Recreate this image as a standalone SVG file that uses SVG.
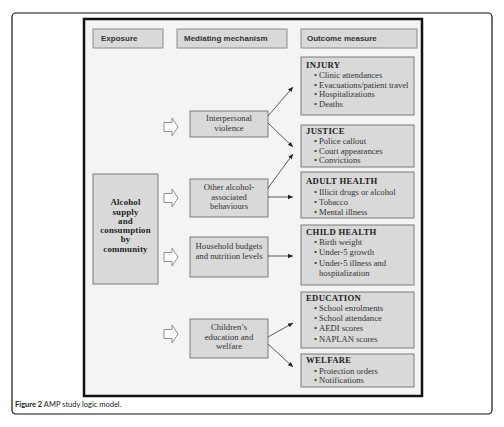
<svg xmlns="http://www.w3.org/2000/svg" width="504" height="427" viewBox="0 0 504 427">
<style>
.hdr{fill:#d9d9d9;stroke:#8a8a8a;stroke-width:1}
.hdrt{font-family:"Liberation Sans",Arial,sans-serif;font-weight:bold;font-size:8px;fill:#333}
.box{fill:#d9d9d9;stroke:#7a7a7a;stroke-width:1}
.mt{font-family:"Liberation Serif","Times New Roman",serif;font-size:8.7px;fill:#333;text-anchor:middle}
.et{font-family:"Liberation Serif","Times New Roman",serif;font-size:8.8px;font-weight:bold;fill:#222;text-anchor:middle;letter-spacing:0.2px}
.ot{font-family:"Liberation Serif","Times New Roman",serif;font-size:8.7px;font-weight:bold;fill:#222;letter-spacing:0.3px}
.oi{font-family:"Liberation Serif","Times New Roman",serif;font-size:8.6px;fill:#333}
.bar{fill:#fff;stroke:#777;stroke-width:0.8}
.con line{stroke:#333;stroke-width:0.8;marker-end:url(#ah)}
</style>
<defs>
<marker id="ah" markerWidth="6" markerHeight="6" refX="5" refY="3" orient="auto" markerUnits="userSpaceOnUse">
<path d="M0,0.8 L5,3 L0,5.2 Z" fill="#222"/>
</marker>
<path id="blk" d="M0,-4.5 H8 V-9 L14,0 L8,9 V4.5 H0 Z"/>
</defs>
<rect x="0" y="0" width="504" height="427" fill="#fff"/>
<rect x="12" y="13" width="480" height="401" rx="4" fill="#fff" stroke="#111" stroke-width="1.2"/>
<rect x="84" y="19" width="338" height="377" fill="#f4f4f4" stroke="#111" stroke-width="2.5"/>

<g id="headers">
<rect class="hdr" x="93" y="29" width="70" height="19"/>
<text class="hdrt" x="101" y="41">Exposure</text>
<rect class="hdr" x="177" y="29" width="110" height="19"/>
<text class="hdrt" x="184" y="41">Mediating mechanism</text>
<rect class="hdr" x="301" y="29" width="116" height="19"/>
<text class="hdrt" x="307" y="41">Outcome measure</text>
</g>

<g id="exposure">
<rect class="box" x="93" y="174" width="65" height="110"/>
<text class="et" x="125.5" y="205">Alcohol</text>
<text class="et" x="125.5" y="214.5">supply</text>
<text class="et" x="125.5" y="224">and</text>
<text class="et" x="125.5" y="233">consumption</text>
<text class="et" x="125.5" y="242">by</text>
<text class="et" x="125.5" y="251.5">community</text>
</g>

<g id="block-arrows">
<use href="#blk" class="bar" x="164" y="127"/>
<use href="#blk" class="bar" x="164" y="198"/>
<use href="#blk" class="bar" x="164" y="257"/>
<use href="#blk" class="bar" x="164" y="334"/>
</g>

<g id="interpersonal">
<rect class="box" x="190" y="111" width="78" height="26"/>
<text class="mt" x="229" y="121">Interpersonal</text>
<text class="mt" x="229" y="131">violence</text>
</g>
<g id="other">
<rect class="box" x="190" y="179" width="78" height="38"/>
<text class="mt" x="229" y="190">Other alcohol-</text>
<text class="mt" x="229" y="199.5">associated</text>
<text class="mt" x="229" y="209">behaviours</text>
</g>
<g id="household">
<rect class="box" x="190" y="237" width="78" height="40"/>
<text class="mt" x="229" y="249">Household budgets</text>
<text class="mt" x="229" y="258.5">and nutrition levels</text>
</g>
<g id="children">
<rect class="box" x="190" y="319" width="78" height="39"/>
<text class="mt" x="229" y="330">Children’s</text>
<text class="mt" x="229" y="339.5">education and</text>
<text class="mt" x="229" y="349">welfare</text>
</g>

<g id="injury">
<rect class="box" x="301" y="57" width="113" height="58"/>
<text class="ot" x="306" y="68">INJURY</text>
<text class="oi" x="314" y="78">•</text><text class="oi" x="319" y="78">Clinic attendances</text>
<text class="oi" x="314" y="87.5">•</text><text class="oi" x="319" y="87.5">Evacuations/patient travel</text>
<text class="oi" x="314" y="97">•</text><text class="oi" x="319" y="97">Hospitalizations</text>
<text class="oi" x="314" y="107">•</text><text class="oi" x="319" y="107">Deaths</text>
</g>
<g id="justice">
<rect class="box" x="301" y="125" width="113" height="42"/>
<text class="ot" x="306" y="134">JUSTICE</text>
<text class="oi" x="314" y="144">•</text><text class="oi" x="319" y="144">Police callout</text>
<text class="oi" x="314" y="153.5">•</text><text class="oi" x="319" y="153.5">Court appearances</text>
<text class="oi" x="314" y="163">•</text><text class="oi" x="319" y="163">Convictions</text>
</g>
<g id="adult-health">
<rect class="box" x="301" y="172" width="113" height="46"/>
<text class="ot" x="306" y="184">ADULT HEALTH</text>
<text class="oi" x="314" y="195">•</text><text class="oi" x="319" y="195">Illicit drugs or alcohol</text>
<text class="oi" x="314" y="205">•</text><text class="oi" x="319" y="205">Tobacco</text>
<text class="oi" x="314" y="215">•</text><text class="oi" x="319" y="215">Mental illness</text>
</g>
<g id="child-health">
<rect class="box" x="301" y="225" width="113" height="60"/>
<text class="ot" x="306" y="234.5">CHILD HEALTH</text>
<text class="oi" x="314" y="245">•</text><text class="oi" x="319" y="245">Birth weight</text>
<text class="oi" x="314" y="255">•</text><text class="oi" x="319" y="255">Under-5 growth</text>
<text class="oi" x="314" y="265.5">•</text><text class="oi" x="319" y="265.5">Under-5 illness and</text>
<text class="oi" x="319" y="275.5">hospitalization</text>
</g>
<g id="education">
<rect class="box" x="301" y="292" width="113" height="56"/>
<text class="ot" x="306" y="301">EDUCATION</text>
<text class="oi" x="314" y="311">•</text><text class="oi" x="319" y="311">School enrolments</text>
<text class="oi" x="314" y="321">•</text><text class="oi" x="319" y="321">School attendance</text>
<text class="oi" x="314" y="331">•</text><text class="oi" x="319" y="331">AEDI scores</text>
<text class="oi" x="314" y="342">•</text><text class="oi" x="319" y="342">NAPLAN scores</text>
</g>
<g id="welfare">
<rect class="box" x="301" y="354" width="113" height="33"/>
<text class="ot" x="306" y="363">WELFARE</text>
<text class="oi" x="314" y="374">•</text><text class="oi" x="319" y="374">Protection orders</text>
<text class="oi" x="314" y="383">•</text><text class="oi" x="319" y="383">Notifications</text>
</g>

<g id="connectors" class="con">
<line x1="268" y1="116" x2="293" y2="87"/>
<line x1="268" y1="123" x2="293" y2="147"/>
<line x1="268" y1="188" x2="293" y2="154"/>
<line x1="268" y1="197" x2="293" y2="197"/>
<line x1="268" y1="256" x2="293" y2="256"/>
<line x1="268" y1="337" x2="293" y2="323"/>
<line x1="268" y1="344" x2="293" y2="367"/>
</g>

<g id="caption">
<text x="15" y="407" font-family="Lato,'Open Sans',sans-serif" font-size="7.5px" fill="#222"><tspan font-weight="bold">Figure 2</tspan> AMP study logic model.</text>
</g>
</svg>
